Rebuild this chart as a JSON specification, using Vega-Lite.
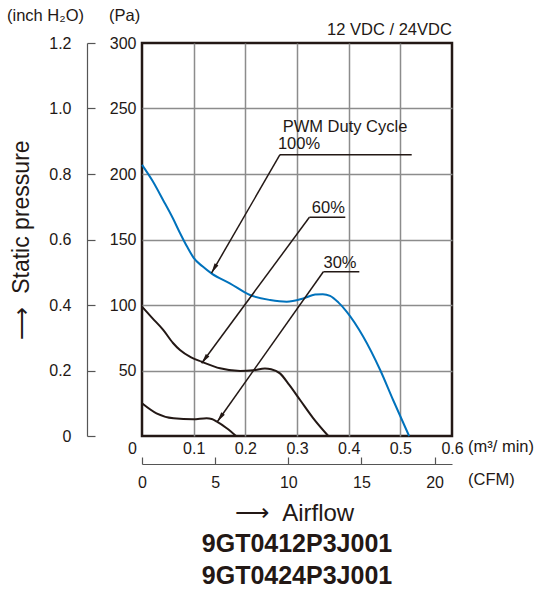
{
  "$schema": "https://vega.github.io/schema/vega-lite/v6.json",
  "width": 310,
  "height": 393,
  "autosize": {"type": "none"},
  "padding": {"left": 142, "top": 43, "right": 92, "bottom": 162},
  "background": "white",
  "config": {
    "font": "Liberation Sans",
    "view": {"stroke": "#231815", "strokeWidth": 2.5},
    "axis": {
      "labelFont": "Liberation Sans",
      "labelFontSize": 16,
      "labelColor": "#231815",
      "titleFont": "Liberation Sans",
      "titleFontWeight": "normal",
      "titleColor": "#231815",
      "labelFlush": false
    }
  },
  "title": {
    "text": ["9GT0412P3J001", "9GT0424P3J001"],
    "orient": "bottom",
    "anchor": "middle",
    "font": "Liberation Sans",
    "fontSize": 25,
    "fontWeight": "bold",
    "color": "#231815",
    "lineHeight": 32,
    "offset": 7
  },
  "datasets": {
    "curves": [
      {"duty": "100%", "flow": 0, "pa": 207},
      {"duty": "100%", "flow": 0.02, "pa": 195},
      {"duty": "100%", "flow": 0.041, "pa": 180},
      {"duty": "100%", "flow": 0.06, "pa": 166},
      {"duty": "100%", "flow": 0.0735, "pa": 155},
      {"duty": "100%", "flow": 0.088, "pa": 144},
      {"duty": "100%", "flow": 0.1, "pa": 136},
      {"duty": "100%", "flow": 0.117, "pa": 129.5},
      {"duty": "100%", "flow": 0.135, "pa": 124},
      {"duty": "100%", "flow": 0.17, "pa": 116.6},
      {"duty": "100%", "flow": 0.209, "pa": 107.6},
      {"duty": "100%", "flow": 0.248, "pa": 103.8},
      {"duty": "100%", "flow": 0.28, "pa": 102.5},
      {"duty": "100%", "flow": 0.312, "pa": 105},
      {"duty": "100%", "flow": 0.335, "pa": 108},
      {"duty": "100%", "flow": 0.35, "pa": 108.3},
      {"duty": "100%", "flow": 0.364, "pa": 107},
      {"duty": "100%", "flow": 0.38, "pa": 102},
      {"duty": "100%", "flow": 0.396, "pa": 95},
      {"duty": "100%", "flow": 0.428, "pa": 76},
      {"duty": "100%", "flow": 0.461, "pa": 50.4},
      {"duty": "100%", "flow": 0.486, "pa": 27.5},
      {"duty": "100%", "flow": 0.517, "pa": 0},
      {"duty": "60%", "flow": 0, "pa": 98.7},
      {"duty": "60%", "flow": 0.02, "pa": 90},
      {"duty": "60%", "flow": 0.041, "pa": 81},
      {"duty": "60%", "flow": 0.06, "pa": 71},
      {"duty": "60%", "flow": 0.0735, "pa": 65.6},
      {"duty": "60%", "flow": 0.095, "pa": 60},
      {"duty": "60%", "flow": 0.1155, "pa": 56.7},
      {"duty": "60%", "flow": 0.151, "pa": 51.7},
      {"duty": "60%", "flow": 0.19, "pa": 49.6},
      {"duty": "60%", "flow": 0.2155, "pa": 50.2},
      {"duty": "60%", "flow": 0.238, "pa": 51.5},
      {"duty": "60%", "flow": 0.25, "pa": 51},
      {"duty": "60%", "flow": 0.267, "pa": 47.8},
      {"duty": "60%", "flow": 0.285, "pa": 39},
      {"duty": "60%", "flow": 0.306, "pa": 27.5},
      {"duty": "60%", "flow": 0.3316, "pa": 13.5},
      {"duty": "60%", "flow": 0.3606, "pa": 0},
      {"duty": "30%", "flow": 0, "pa": 25},
      {"duty": "30%", "flow": 0.028, "pa": 17.3},
      {"duty": "30%", "flow": 0.061, "pa": 13.5},
      {"duty": "30%", "flow": 0.099, "pa": 12.7},
      {"duty": "30%", "flow": 0.125, "pa": 13.5},
      {"duty": "30%", "flow": 0.135, "pa": 13},
      {"duty": "30%", "flow": 0.145, "pa": 10.9},
      {"duty": "30%", "flow": 0.164, "pa": 5.9},
      {"duty": "30%", "flow": 0.182, "pa": 0}
    ],
    "leaders": [
      {"duty": "100%", "x": 0.267, "y": 214.7, "x2": 0.522, "y2": 214.7},
      {"duty": "100%", "x": 0.267, "y": 214.7, "x2": 0.1345, "y2": 124.4},
      {"duty": "60%", "x": 0.324, "y": 167, "x2": 0.3935, "y2": 167},
      {"duty": "60%", "x": 0.324, "y": 167, "x2": 0.1155, "y2": 55.5},
      {"duty": "30%", "x": 0.351, "y": 125.4, "x2": 0.4206, "y2": 125.4},
      {"duty": "30%", "x": 0.351, "y": 125.4, "x2": 0.1457, "y2": 10.9}
    ],
    "tips": [
      {"duty": "100%", "x": 0.1345, "y": 124.4},
      {"duty": "60%", "x": 0.1155, "y": 55.5},
      {"duty": "30%", "x": 0.1457, "y": 10.9}
    ],
    "notes": [
      {"label": "12 VDC / 24VDC", "x": 0.479, "y": 309.9},
      {"label": "PWM Duty Cycle", "x": 0.3929, "y": 235.8},
      {"label": "100%", "x": 0.3039, "y": 222.6},
      {"label": "60%", "x": 0.3606, "y": 173.8},
      {"label": "30%", "x": 0.3832, "y": 131.8}
    ],
    "units": [
      {"label": "(inch H₂O)", "x": -0.2613, "y": 320.6},
      {"label": "(Pa)", "x": -0.0639, "y": 320.6},
      {"label": "(m³/ min)", "x": 0.631, "y": -8.4},
      {"label": "(CFM)", "x": 0.631, "y": -33.6}
    ]
  },
  "layer": [
    {
      "data": {"name": "curves"},
      "mark": {"type": "line", "interpolate": "monotone", "strokeWidth": 2},
      "encoding": {
        "x": {
          "field": "flow",
          "type": "quantitative",
          "scale": {"domain": [0, 0.6], "nice": false, "zero": false},
          "axis": {
            "orient": "bottom",
            "values": [0, 0.1, 0.2, 0.3, 0.4, 0.5, 0.6],
            "grid": true,
            "gridColor": "#8c8c8c",
            "gridWidth": 1.5,
            "gridOpacity": {"condition": {"test": "datum.value == 0 || datum.value == 0.6", "value": 0}, "value": 1},
            "domain": false,
            "ticks": false,
            "labelPadding": 4,
            "labelOffset": {"condition": {"test": "datum.value == 0", "value": -10}, "value": 0},
            "labelExpr": "datum.value == 0 ? '0' : format(datum.value, '.1f')",
            "title": null
          }
        },
        "y": {
          "field": "pa",
          "type": "quantitative",
          "scale": {"domain": [0, 300], "nice": false},
          "axis": {
            "orient": "left",
            "values": [0, 50, 100, 150, 200, 250, 300],
            "grid": true,
            "gridColor": "#8c8c8c",
            "gridWidth": 1.5,
            "gridOpacity": {"condition": {"test": "datum.value == 0 || datum.value == 300", "value": 0}, "value": 1},
            "domain": false,
            "ticks": false,
            "labelPadding": 6,
            "labelExpr": "datum.value == 0 ? '' : datum.label",
            "title": null
          }
        },
        "color": {
          "field": "duty",
          "type": "nominal",
          "scale": {"domain": ["100%", "60%", "30%"], "range": ["#0072bc", "#231815", "#231815"]},
          "legend": null
        }
      }
    },
    {
      "data": {"name": "leaders"},
      "mark": {"type": "rule", "color": "#231815", "strokeWidth": 1.5},
      "encoding": {
        "x": {
          "field": "x",
          "type": "quantitative",
          "scale": {"domain": [0, 0.6], "nice": false, "zero": false},
          "axis": {
            "orient": "bottom",
            "offset": 28,
            "values": [0, 0.141584, 0.283168, 0.424752, 0.566337],
            "grid": false,
            "domain": true,
            "domainColor": "#555555",
            "domainWidth": 1.2,
            "ticks": true,
            "tickSize": -7,
            "tickColor": "#555555",
            "tickWidth": 1.2,
            "labelPadding": 17,
            "labelExpr": "format(datum.value * 35.3147, '.0f')",
            "title": "⟶\u00a0\u00a0Airflow",
            "titleFontSize": 24,
            "titlePadding": 11,
            "titleX": 152
          }
        },
        "y": {
          "field": "y",
          "type": "quantitative",
          "scale": {"domain": [0, 300], "nice": false},
          "axis": {
            "orient": "left",
            "offset": 55,
            "values": [0, 50, 100, 150, 200, 250, 300],
            "grid": false,
            "domain": true,
            "domainColor": "#555555",
            "domainWidth": 1.2,
            "ticks": true,
            "tickSize": -8,
            "tickColor": "#555555",
            "tickWidth": 1.2,
            "labelPadding": 24,
            "labelExpr": "datum.value == 0 ? '0' : format(datum.value / 250, '.1f')",
            "title": "⟶\u00a0\u00a0Static pressure",
            "titleFontSize": 23,
            "titlePadding": 15
          }
        },
        "x2": {"field": "x2"},
        "y2": {"field": "y2"}
      }
    },
    {
      "data": {"name": "tips"},
      "transform": [{"filter": "datum.duty == '100%'"}],
      "mark": {"type": "point", "shape": "M0,0L-0.22,1L0.22,1Z", "size": 400, "filled": true, "opacity": 1, "color": "#231815", "angle": 210},
      "encoding": {
        "x": {"field": "x", "type": "quantitative", "axis": null},
        "y": {"field": "y", "type": "quantitative", "axis": null}
      }
    },
    {
      "data": {"name": "tips"},
      "transform": [{"filter": "datum.duty == '60%'"}],
      "mark": {"type": "point", "shape": "M0,0L-0.22,1L0.22,1Z", "size": 400, "filled": true, "opacity": 1, "color": "#231815", "angle": 216.4},
      "encoding": {
        "x": {"field": "x", "type": "quantitative", "axis": null},
        "y": {"field": "y", "type": "quantitative", "axis": null}
      }
    },
    {
      "data": {"name": "tips"},
      "transform": [{"filter": "datum.duty == '30%'"}],
      "mark": {"type": "point", "shape": "M0,0L-0.22,1L0.22,1Z", "size": 400, "filled": true, "opacity": 1, "color": "#231815", "angle": 215.2},
      "encoding": {
        "x": {"field": "x", "type": "quantitative", "axis": null},
        "y": {"field": "y", "type": "quantitative", "axis": null}
      }
    },
    {
      "data": {"name": "notes"},
      "mark": {"type": "text", "align": "center", "baseline": "middle", "fontSize": 16.5, "color": "#231815", "font": "Liberation Sans"},
      "encoding": {
        "x": {"field": "x", "type": "quantitative", "axis": null},
        "y": {"field": "y", "type": "quantitative", "axis": null},
        "text": {"field": "label"}
      }
    },
    {
      "data": {"name": "units"},
      "mark": {"type": "text", "align": "left", "baseline": "middle", "fontSize": 16.5, "color": "#231815", "font": "Liberation Sans"},
      "encoding": {
        "x": {"field": "x", "type": "quantitative", "axis": null},
        "y": {"field": "y", "type": "quantitative", "axis": null},
        "text": {"field": "label"}
      }
    }
  ],
  "resolve": {"axis": {"x": "independent", "y": "independent"}}
}
